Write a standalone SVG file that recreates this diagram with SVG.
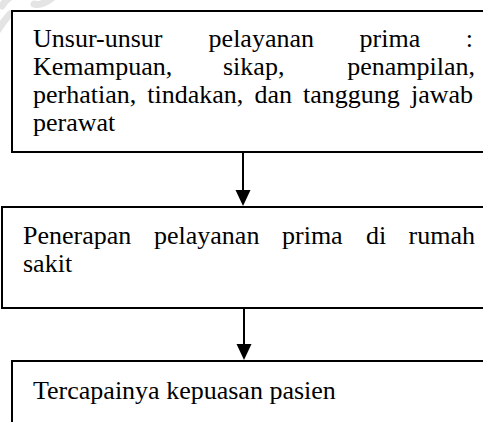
<svg xmlns="http://www.w3.org/2000/svg" width="483" height="422" viewBox="0 0 483 422">
<style>
.box{fill:#fff;stroke:#000;stroke-width:2}
.t{font-family:"Liberation Serif","Times New Roman",serif;font-size:26px;fill:#000}
.wm{fill:none;stroke:#e4e4e4;stroke-width:7;stroke-linecap:round}
.con{stroke:#000;stroke-width:2;fill:none}
.head{fill:#000}
</style>
<rect width="483" height="422" fill="#fff"/>
<g id="watermark">
<path class="wm" d="M2 6 Q5 1 9 -2"/>
<path class="wm" d="M34 4 Q42 6 52 -2"/>
<path class="wm" d="M-2 30 Q3 22 10 14"/>
</g>
<g id="node1">
<rect class="box" x="12" y="11" width="480" height="141"/>
<text class="t" y="47"><tspan x="33">Unsur-unsur</tspan><tspan x="208.6">pelayanan</tspan><tspan x="359.6">prima</tspan><tspan x="473" text-anchor="end">:</tspan></text>
<text class="t" y="75"><tspan x="33">Kemampuan,</tspan><tspan x="223">sikap,</tspan><tspan x="475" text-anchor="end">penampilan,</tspan></text>
<text class="t" y="103"><tspan x="33">perhatian,</tspan><tspan x="147.3">tindakan,</tspan><tspan x="254.4">dan</tspan><tspan x="303">tanggung</tspan><tspan x="473" text-anchor="end">jawab</tspan></text>
<text class="t" x="33" y="131">perawat</text>
</g>
<g id="node2">
<rect class="box" x="2" y="207" width="490" height="101"/>
<text class="t" y="244"><tspan x="23">Penerapan</tspan><tspan x="154">pelayanan</tspan><tspan x="282">prima</tspan><tspan x="366">di</tspan><tspan x="475" text-anchor="end">rumah</tspan></text>
<text class="t" x="23" y="272">sakit</text>
</g>
<g id="node3">
<rect class="box" x="12" y="361" width="480" height="80"/>
<text class="t" x="33" y="399">Tercapainya kepuasan pasien</text>
</g>
<g id="connectors">
<line class="con" x1="243" y1="152" x2="243" y2="192"/>
<polygon class="head" points="235.5,190 250.5,190 243,206"/>
<line class="con" x1="244" y1="308" x2="244" y2="346"/>
<polygon class="head" points="236.5,344 251.5,344 244,360"/>
</g>
</svg>
